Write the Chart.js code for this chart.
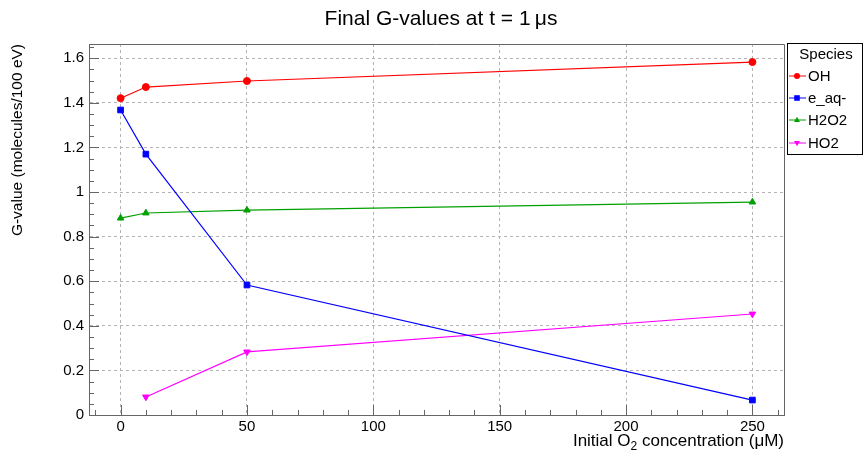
<!DOCTYPE html>
<html>
<head>
<meta charset="utf-8">
<script src="https://cdn.jsdelivr.net/npm/chart.js@4.4.1/dist/chart.umd.min.js"></script>
<style>
  body { margin: 0; background: #fff; }
  #grafico { display: block; }
</style>
</head>
<body>
<canvas id="grafico" width="864" height="455"></canvas>
<script>
// datos
const concentraciones = [0, 10, 50, 250];
const especies = ["OH", "e_aq-", "H2O2", "HO2"];
const valoresOH = [1.421, 1.471, 1.498, 1.583];
const valoresEaq = [1.368, 1.170, 0.583, 0.067];
const valoresH2O2 = [0.883, 0.906, 0.919, 0.955];
const valoresHO2 = [null, 0.081, 0.283, 0.453];

const ticksX = [0, 50, 100, 150, 200, 250];
const ticksY = [0, 0.2, 0.4, 0.6, 0.8, 1, 1.2, 1.4, 1.6];
const etiquetasY = ["0", "0.2", "0.4", "0.6", "0.8", "1", "1.2", "1.4", "1.6"];

const fuente = "'Liberation Sans', Helvetica, Arial, sans-serif";

let puntos = (ys) => concentraciones.map((x, i) => ({ x: x, y: ys[i] }));

const colores = ["#ff0000", "#0000ff", "#00a000", "#ff00ff"];
const marcas = ["circle", "rect", "triangle", "triangle"];
const rotaciones = [0, 0, 0, 180];
const radios = [3.5, 4, 3.8, 3.8];
const series = [valoresOH, valoresEaq, valoresH2O2, valoresHO2];

const datasets = series.map((s, i) => ({
  label: especies[i],
  data: puntos(s),
  borderColor: colores[i],
  backgroundColor: colores[i],
  borderWidth: 1.2,
  pointStyle: marcas[i],
  pointRotation: rotaciones[i],
  pointRadius: radios[i],
  pointBorderWidth: 1,
  tension: 0,
  fill: false
}));

let dibujaMarca = (ctx, tipo, rot, x, y, r) => {
  ctx.beginPath();
  if (tipo === "circle") {
    ctx.arc(x, y, r, 0, Math.PI * 2);
  } else if (tipo === "rect") {
    ctx.rect(x - r * 0.8, y - r * 0.8, r * 1.6, r * 1.6);
  } else {
    const s = rot === 180 ? -1 : 1;
    ctx.moveTo(x, y - s * r);
    ctx.lineTo(x + r * 0.9, y + s * r * 0.6);
    ctx.lineTo(x - r * 0.9, y + s * r * 0.6);
    ctx.closePath();
  }
  ctx.fill();
};

const extras = {
  id: "extras",
  afterDraw(chart) {
    const ctx = chart.ctx;
    const a = chart.chartArea;
    const sx = chart.scales.x;
    const sy = chart.scales.y;
    ctx.save();

    // marco superior y derecho
    ctx.strokeStyle = "#666";
    ctx.lineWidth = 1;
    ctx.beginPath();
    ctx.moveTo(a.left, a.top + 0.5);
    ctx.lineTo(a.right + 0.5, a.top + 0.5);
    ctx.lineTo(a.right + 0.5, a.bottom);
    ctx.stroke();

    // marcas hacia adentro
    ctx.beginPath();
    for (let v = -10; v <= 260; v += 10) {
      const px = Math.round(sx.getPixelForValue(v)) + 0.5;
      const largo = v % 50 === 0 ? 10 : 5;
      ctx.moveTo(px, a.bottom);
      ctx.lineTo(px, a.bottom - largo);
    }
    for (let k = 1; k <= 33; k++) {
      const v = k * 0.05;
      const py = Math.round(sy.getPixelForValue(v)) + 0.5;
      const largo = k % 4 === 0 ? 10 : 5;
      ctx.moveTo(a.left, py);
      ctx.lineTo(a.left + largo, py);
    }
    ctx.stroke();

    // titulo
    ctx.fillStyle = "#000";
    ctx.font = "21px " + fuente;
    ctx.textAlign = "center";
    ctx.textBaseline = "middle";
    ctx.fillText("Final G-values at t = 1\u2009\u03bcs", 441, 19);

    // titulo eje x con subindice
    ctx.textBaseline = "alphabetic";
    ctx.textAlign = "left";
    const p1 = "Initial O";
    const p2 = " concentration (\u03bcM)";
    ctx.font = "12px " + fuente;
    const w2 = ctx.measureText("2").width;
    ctx.font = "17px " + fuente;
    const w1 = ctx.measureText(p1).width;
    const w3 = ctx.measureText(p2).width;
    let x0 = a.right - (w1 + w2 + w3);
    ctx.fillText(p1, x0, 446);
    ctx.font = "12px " + fuente;
    ctx.fillText("2", x0 + w1, 450);
    ctx.font = "17px " + fuente;
    ctx.fillText(p2, x0 + w1 + w2, 446);

    // titulo eje y
    ctx.font = "15.5px " + fuente;
    ctx.translate(18, a.top);
    ctx.rotate(-Math.PI / 2);
    ctx.textAlign = "right";
    ctx.textBaseline = "middle";
    ctx.fillText("G-value (molecules/100 eV)", 0, 0);
    ctx.setTransform(1, 0, 0, 1, 0, 0);

    // leyenda
    ctx.fillStyle = "#fff";
    ctx.fillRect(787, 44, 75, 111);
    ctx.strokeStyle = "#000";
    ctx.strokeRect(787.5, 43.5, 75, 111);
    ctx.fillStyle = "#000";
    ctx.font = "15px " + fuente;
    ctx.textAlign = "center";
    ctx.fillText("Species", 826, 55);
    const filas = [76, 98, 120, 143];
    ctx.textAlign = "left";
    datasets.forEach((d, i) => {
      const y = filas[i];
      ctx.strokeStyle = d.borderColor;
      ctx.lineWidth = 1;
      ctx.beginPath();
      ctx.moveTo(789, y);
      ctx.lineTo(806, y);
      ctx.stroke();
      ctx.fillStyle = d.backgroundColor;
      dibujaMarca(ctx, marcas[i], rotaciones[i], 797, y, radios[i] - 0.5);
      ctx.fillStyle = "#000";
      ctx.fillText(d.label, 808, y + 1);
    });

    ctx.restore();
  }
};

const grafico = new Chart(document.getElementById("grafico"), {
  type: "line",
  data: { datasets },
  options: {
    responsive: false,
    animation: false,
    layout: { padding: { left: 0, right: 80, top: 44, bottom: 0 } },
    plugins: { legend: { display: false }, title: { display: false }, tooltip: { enabled: false } },
    scales: {
      x: {
        type: "linear",
        min: -12.5,
        max: 262.5,
        afterBuildTicks: (eje) => { eje.ticks = ticksX.map(v => ({ value: v })); },
        afterFit: (eje) => { eje.height = 40; },
        grid: { color: "#b4b4b4", drawTicks: false, lineWidth: 1 },
        border: { display: true, color: "#666", width: 1, dash: [3, 3] },
        ticks: {
          autoSkip: false,
          maxRotation: 0,
          padding: 3,
          color: "#000",
          font: { family: fuente, size: 15 },
          callback: (v) => String(v)
        }
      },
      y: {
        min: 0,
        max: 1.664,
        afterBuildTicks: (eje) => { eje.ticks = ticksY.map(v => ({ value: v })); },
        afterFit: (eje) => { eje.width = 89; },
        grid: { color: "#b4b4b4", drawTicks: false, lineWidth: 1 },
        border: { display: true, color: "#666", width: 1, dash: [3, 3] },
        ticks: {
          autoSkip: false,
          padding: 5,
          color: "#000",
          font: { family: fuente, size: 15 },
          callback: (v) => {
            const i = ticksY.findIndex(t => Math.abs(t - v) < 1e-6);
            return i >= 0 ? etiquetasY[i] : "";
          }
        }
      }
    }
  },
  plugins: [extras]
});
</script>
</body>
</html>
